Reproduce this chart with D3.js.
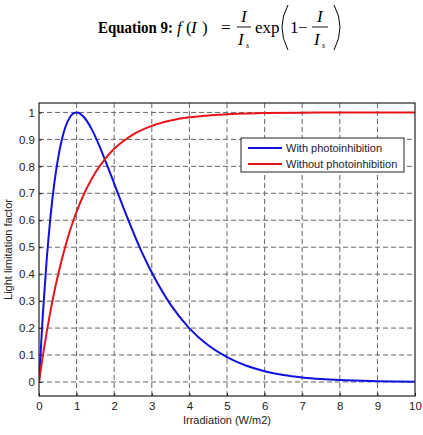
<!DOCTYPE html>
<html>
<head>
<meta charset="utf-8">
<script src="https://cdn.jsdelivr.net/npm/d3@7"></script>
<style>
  body { margin: 0; background: #fff; }
  svg { display: block; }
</style>
</head>
<body>
<div id="chart"></div>
<script>
// values
var xTicks = [0, 1, 2, 3, 4, 5, 6, 7, 8, 9, 10];
var yTicks = [0, 0.1, 0.2, 0.3, 0.4, 0.5, 0.6, 0.7, 0.8, 0.9, 1];

var withX = [0, 0.1, 0.2, 0.3, 0.4, 0.5, 0.6, 0.7, 0.8, 0.9, 1, 1.2, 1.4, 1.6, 1.8, 2, 2.25, 2.5, 2.75, 3, 3.5, 4, 4.5, 5, 5.5, 6, 6.5, 7, 7.5, 8, 9, 10];
var withY = [0, 0.246, 0.445, 0.605, 0.729, 0.824, 0.895, 0.945, 0.977, 0.995, 1, 0.982, 0.938, 0.878, 0.808, 0.736, 0.645, 0.558, 0.477, 0.406, 0.287, 0.199, 0.136, 0.092, 0.061, 0.040, 0.026, 0.017, 0.011, 0.007, 0.003, 0.001];

var withoutX = [0, 0.1, 0.2, 0.3, 0.4, 0.5, 0.6, 0.7, 0.8, 0.9, 1, 1.25, 1.5, 1.75, 2, 2.5, 3, 3.5, 4, 4.5, 5, 6, 7, 8, 9, 10];
var withoutY = [0, 0.095, 0.181, 0.259, 0.33, 0.393, 0.451, 0.503, 0.551, 0.593, 0.632, 0.713, 0.777, 0.826, 0.865, 0.918, 0.95, 0.97, 0.982, 0.989, 0.993, 0.998, 0.999, 1, 1, 1];

var seriesNames = ["With photoinhibition", "Without photoinhibition"];
var seriesColors = ["#1010e0", "#e8141c"];

var w = 423, h = 435;
var pLeft = 39, pRight = 415, pTop = 103, pBottom = 396;

var svg = d3.select("#chart").append("svg")
  .attr("width", w)
  .attr("height", h);

// equation header
var eq = svg.append("g")
  .attr("font-family", "'Liberation Serif', 'Times New Roman', serif")
  .attr("font-size", 17)
  .attr("fill", "#000");

function eqText(x, y, s, italic, size) {
  var t = eq.append("text").attr("x", x).attr("y", y).text(s);
  if (italic) t.attr("font-style", "italic");
  if (size) t.attr("font-size", size);
  return t;
}

eqText(98, 33, "Equation 9:", false, 16)
  .attr("font-weight", "bold")
  .attr("textLength", 75)
  .attr("lengthAdjust", "spacingAndGlyphs");
eqText(177, 33, "f", true);
eqText(186, 33, "(");
eqText(191, 33, "I", true);
eqText(202, 33, ")");
eqText(221, 33, "=");
// first fraction
eqText(241, 22, "I", true);
eq.append("line").attr("x1", 237).attr("x2", 251).attr("y1", 27).attr("y2", 27)
  .attr("stroke", "#000").attr("stroke-width", 0.9);
eqText(238, 45, "I", true);
eqText(246, 48, "s", true, 8);
eqText(255, 33, "exp");
// thin tall parentheses
eq.append("path").attr("d", "M288,5 Q276,27 288,50")
  .attr("fill", "none").attr("stroke", "#000").attr("stroke-width", 1);
eqText(290, 33, "1");
eqText(298, 33, "\u2212");
eqText(317, 22, "I", true);
eq.append("line").attr("x1", 312).attr("x2", 328).attr("y1", 27).attr("y2", 27)
  .attr("stroke", "#000").attr("stroke-width", 0.9);
eqText(314, 45, "I", true);
eqText(322, 48, "s", true, 8);
eq.append("path").attr("d", "M334,5 Q346,27 334,50")
  .attr("fill", "none").attr("stroke", "#000").attr("stroke-width", 1);

var xScale = d3.scaleLinear()
  .domain([0, 10])
  .range([pLeft, pRight]);

var yScale = d3.scaleLinear()
  .domain([-0.052, 1.035])
  .range([pBottom, pTop]);

// grid
svg.append("g").selectAll("line")
  .data(xTicks.slice(1, -1))
  .enter()
  .append("line")
  .attr("x1", function(d) { return xScale(d); })
  .attr("x2", function(d) { return xScale(d); })
  .attr("y1", pTop)
  .attr("y2", pBottom)
  .attr("stroke", "#666")
  .attr("stroke-width", 1)
  .attr("stroke-dasharray", "5,3");

svg.append("g").selectAll("line")
  .data(yTicks)
  .enter()
  .append("line")
  .attr("x1", pLeft)
  .attr("x2", pRight)
  .attr("y1", function(d) { return yScale(d); })
  .attr("y2", function(d) { return yScale(d); })
  .attr("stroke", "#666")
  .attr("stroke-width", 1)
  .attr("stroke-dasharray", "5,3");

var xAxis = d3.axisBottom()
  .scale(xScale)
  .tickValues(xTicks)
  .tickSize(-3)
  .tickPadding(6)
  .tickFormat(d3.format("d"));

var yAxis = d3.axisLeft()
  .scale(yScale)
  .tickValues(yTicks)
  .tickSize(-3)
  .tickPadding(4)
  .tickFormat(function(d) { return d === 0 ? "0" : d === 1 ? "1" : d3.format(".1f")(d); });

var gx = svg.append("g")
  .attr("class", "axis")
  .attr("transform", "translate(0," + pBottom + ")")
  .call(xAxis);

var gy = svg.append("g")
  .attr("class", "axis")
  .attr("transform", "translate(" + pLeft + ",0)")
  .call(yAxis);

[gx, gy].forEach(function(g) {
  g.select(".domain").remove();
  g.selectAll(".tick line").attr("stroke", "#222");
  g.selectAll("text")
    .attr("font-family", "'Liberation Sans', Arial, sans-serif")
    .attr("font-size", 11.5)
    .attr("fill", "#222");
});

// curves
var line = d3.line()
  .x(function(d) { return xScale(d[0]); })
  .y(function(d) { return yScale(d[1]); })
  .curve(d3.curveMonotoneX);

var series = [
  d3.zip(withX, withY),
  d3.zip(withoutX, withoutY)
];

svg.append("defs").append("clipPath").attr("id", "clip")
  .append("rect")
  .attr("x", pLeft).attr("y", pTop)
  .attr("width", pRight - pLeft).attr("height", pBottom - pTop);

svg.append("g").attr("clip-path", "url(#clip)")
  .selectAll("path")
  .data(series)
  .enter()
  .append("path")
  .attr("d", line)
  .attr("fill", "none")
  .attr("stroke", function(d, i) { return seriesColors[i]; })
  .attr("stroke-width", 2);

// frame
svg.append("rect")
  .attr("x", pLeft).attr("y", pTop)
  .attr("width", pRight - pLeft).attr("height", pBottom - pTop)
  .attr("fill", "none")
  .attr("stroke", "#222")
  .attr("stroke-width", 1.2);

// legend
var lg = svg.append("g").attr("transform", "translate(241,138)");
lg.append("rect")
  .attr("width", 163).attr("height", 34)
  .attr("fill", "#fff")
  .attr("stroke", "#222")
  .attr("stroke-width", 1);
lg.selectAll("line")
  .data(seriesNames)
  .enter()
  .append("line")
  .attr("x1", 7).attr("x2", 41)
  .attr("y1", function(d, i) { return 10 + i * 16; })
  .attr("y2", function(d, i) { return 10 + i * 16; })
  .attr("stroke", function(d, i) { return seriesColors[i]; })
  .attr("stroke-width", 2);
lg.selectAll("text")
  .data(seriesNames)
  .enter()
  .append("text")
  .attr("x", 45)
  .attr("y", function(d, i) { return 14 + i * 16; })
  .attr("font-family", "'Liberation Sans', Arial, sans-serif")
  .attr("font-size", 11)
  .attr("fill", "#222")
  .text(function(d) { return d; });

// axis titles
svg.append("text")
  .attr("x", xScale(5))
  .attr("y", 424)
  .attr("text-anchor", "middle")
  .attr("font-family", "'Liberation Sans', Arial, sans-serif")
  .attr("font-size", 11)
  .attr("fill", "#222")
  .text("Irradiation (W/m2)");

svg.append("text")
  .attr("transform", "translate(12," + ((pTop + pBottom) / 2) + ") rotate(-90)")
  .attr("text-anchor", "middle")
  .attr("font-family", "'Liberation Sans', Arial, sans-serif")
  .attr("font-size", 11)
  .attr("fill", "#222")
  .text("Light limitation factor");
</script>
</body>
</html>
